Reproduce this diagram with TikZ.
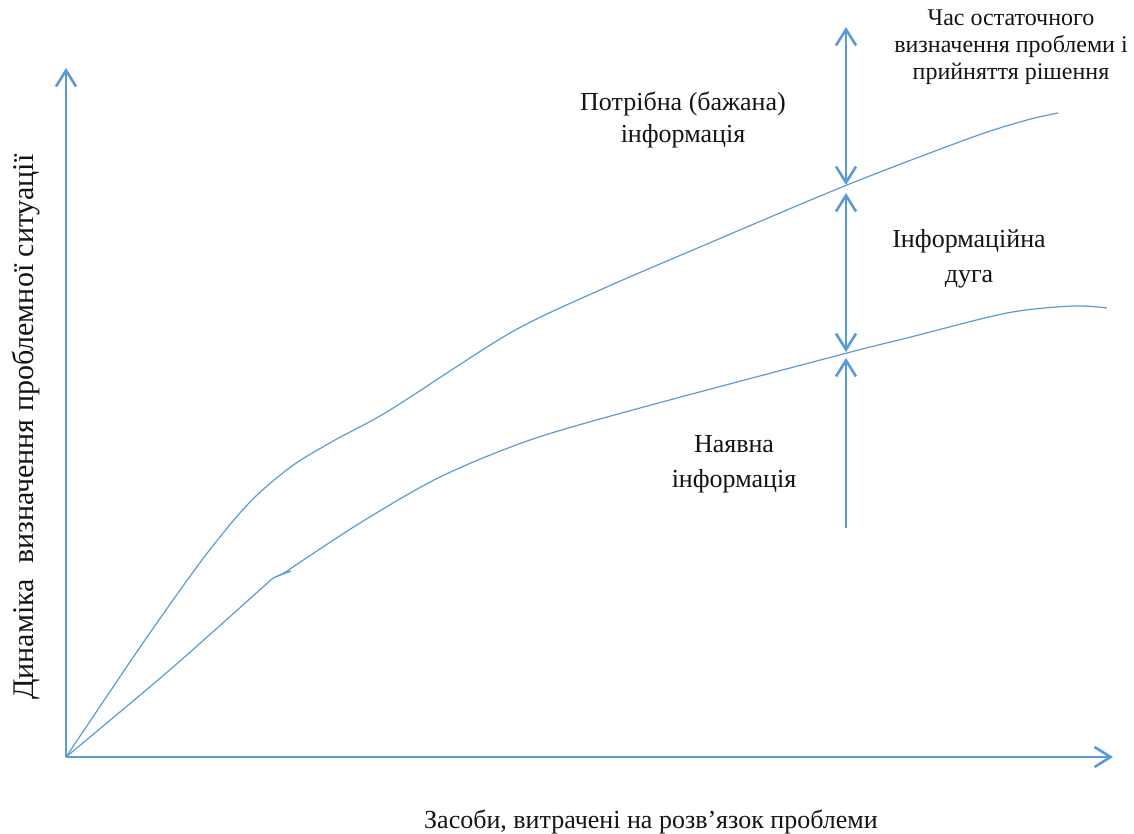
\documentclass[tikz,border=0pt]{standalone}
\usepackage{fontspec}
\setmainfont{Liberation Serif}
\usepackage{xcolor}
\usepackage{tikz}
\usetikzlibrary{arrows.meta, positioning}
\definecolor{linecolor}{RGB}{91,155,213}
\definecolor{textcolor}{RGB}{20,20,20}

\begin{document}
\begin{tikzpicture}[
    x=1pt, y=-1pt,
    >={Straight Barb[length=16pt,width=20pt]},
    axis/.style={draw=linecolor, line width=2.6pt, ->},
    curve/.style={draw=linecolor, line width=1.2pt, smooth, tension=0.5},
    gap/.style={draw=linecolor, line width=2.6pt},
    label/.style={text=textcolor, align=center, font=\fontsize{26}{35}\selectfont, inner sep=0pt}
]
    \useasboundingbox (0,0) rectangle (1134,834);

    % Axes
    \coordinate (origin) at (66,757);
    \coordinate (ytop) at (66,68);
    \coordinate (xend) at (1113,757);
    \draw[axis] (origin) -- (ytop);
    \draw[axis] (origin) -- (xend);

    % Curves
    \draw[curve] plot coordinates {(66,757) (145,640) (205,556) (250,502) (292,466)
        (335,440) (390,410) (510,333) (600,290) (700,247) (847,185) (973,137) (1027,120) (1058,113)};
    \draw[curve] plot coordinates {(66,757) (172,668) (273,578)};
    \draw[draw=linecolor, line width=1.2pt, fill=linecolor] (273,578) -- (291,571) -- (284,573) -- cycle;
    \draw[curve] plot coordinates {(284,573) (360,523) (440,477) (530,440) (640,408)
        (847,353) (907,338) (1007,313) (1073,306) (1107,308)};

    % Gaps
    \coordinate (need) at (846,186);
    \coordinate (have) at (846,353);
    \coordinate (topend) at (846,27);
    \coordinate (lowend) at (846,528);
    \draw[gap, <->] (topend) -- ([yshift=1pt]need);
    \draw[gap, <->] ([yshift=-7pt]need) -- ([yshift=1pt]have);
    \draw[gap, ->] (lowend) -- ([yshift=-5pt]have);

    % Labels
    \node[label, font=\fontsize{26}{32}\selectfont] (wanted) at (683,120) {Потрібна (бажана)\\інформація};
    \node[label] (arc) at (969,259) {Інформаційна\\дуга};
    \node[label] (present) at (734,464) {Наявна\\інформація};
    \node[label, font=\fontsize{24}{27}\selectfont] (decision) at (1011,47)
        {Час остаточного\\визначення проблеми і\\прийняття рішення};
    \node[label] (xlabel) at (651,822)
        {Засоби, витрачені на розв’язок проблеми};
    \node[label, font=\fontsize{30}{32}\selectfont, rotate=90] (ylabel) at (26,427)
        {Динаміка\ \ визначення проблемної ситуації};
\end{tikzpicture}
\end{document}
